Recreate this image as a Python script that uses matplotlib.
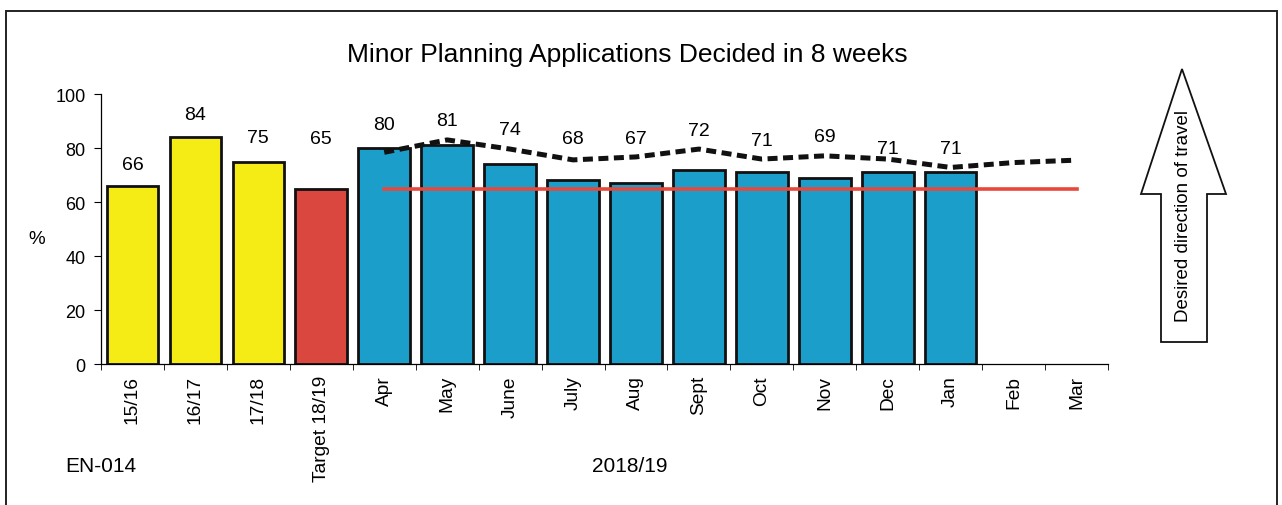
import matplotlib.pyplot as plt
from matplotlib.patches import Polygon, Rectangle
import numpy as np

plt.rcParams['font.family'] = ['Liberation Sans', 'DejaVu Sans']

# data
categories = ['15/16', '16/17', '17/18', 'Target 18/19', 'Apr', 'May', 'June', 'July',
              'Aug', 'Sept', 'Oct', 'Nov', 'Dec', 'Jan', 'Feb', 'Mar']
bar_values = [66, 84, 75, 65, 80, 81, 74, 68, 67, 72, 71, 69, 71, 71]
bar_kinds = ['past', 'past', 'past', 'target'] + ['month'] * 10
trend_values = [78.4, 83.0, 79.6, 75.6, 76.7, 79.6, 75.9, 77.1, 75.9, 72.8, 74.6, 75.5]  # Apr..Mar
target = 65

# styling
colours = {'past': '#f4ec14', 'target': '#d9473f', 'month': '#1b9fca'}
label_offsets = [15, 16, 17, 36, 17, 18, 25, 30, 32, 28, 23, 30, 17, 17]  # points above bar

W, H = 1282, 506
fig = plt.figure(figsize=(W / 100, H / 100), dpi=100)
ax = fig.add_axes([101 / W, 1 - 365 / H, (1108 - 101) / W, (365 - 95) / H])

x = np.arange(len(categories))
for i, v in enumerate(bar_values):
    ax.bar(x[i], v, width=0.82, color=colours[bar_kinds[i]], edgecolor='#111111', linewidth=2.0, zorder=2)
    ax.annotate(str(v), (x[i], v), xytext=(0, label_offsets[i]), textcoords='offset points',
                ha='center', va='center', fontsize=14)

month_x = x[4:]
ax.plot(month_x, [target] * len(month_x), color='#e8483c', linewidth=2.6, zorder=3)
ax.plot(month_x[:len(trend_values)], trend_values, color='#111111', linewidth=3.6,
        linestyle=(0, (2.0, 1.1)), zorder=4)

ax.set_xlim(-0.5, len(categories) - 0.5)
ax.set_ylim(0, 100)
ax.set_yticks(range(0, 101, 20))
ax.set_xticks(x)
ax.set_xticklabels(categories, rotation=90, fontsize=13.8)
ax.set_xticks(np.arange(-0.5, len(categories)), minor=True)
ax.tick_params(axis='x', which='major', length=0, pad=8)
ax.tick_params(axis='x', which='minor', length=4, direction='out')
ax.tick_params(axis='y', length=5, labelsize=13, pad=6)
for s in ['top', 'right']:
    ax.spines[s].set_visible(False)
for s in ['left', 'bottom']:
    ax.spines[s].set_linewidth(0.9)

fig.text(627 / W, 1 - 55 / H, 'Minor Planning Applications Decided in 8 weeks',
         ha='center', va='center', fontsize=19)
fig.text(37 / W, 1 - 240 / H, '%', ha='center', va='center', fontsize=13.5)
fig.text(630 / W, 1 - 467 / H, '2018/19', ha='center', va='center', fontsize=15)
fig.text(65 / W, 1 - 467 / H, 'EN-014', ha='left', va='center', fontsize=15)

# outer frame
fig.add_artist(Rectangle((6 / W, -0.1), (1277 - 6) / W, 1.1 - 12 / H, transform=fig.transFigure,
                         fill=False, edgecolor='#222222', linewidth=1.4))

# "desired direction" arrow
pts = [(1182, 70), (1226, 195), (1207, 195), (1207, 343), (1161, 343), (1161, 195), (1141, 195)]
fig.add_artist(Polygon([(px / W, 1 - py / H) for px, py in pts], closed=True, transform=fig.transFigure,
                       facecolor='white', edgecolor='#111111', linewidth=1.3))
fig.text(1184 / W, 1 - 216 / H, 'Desired direction of travel', rotation=90,
         ha='center', va='center', fontsize=13.5)

fig.savefig('out.png', dpi=100)
